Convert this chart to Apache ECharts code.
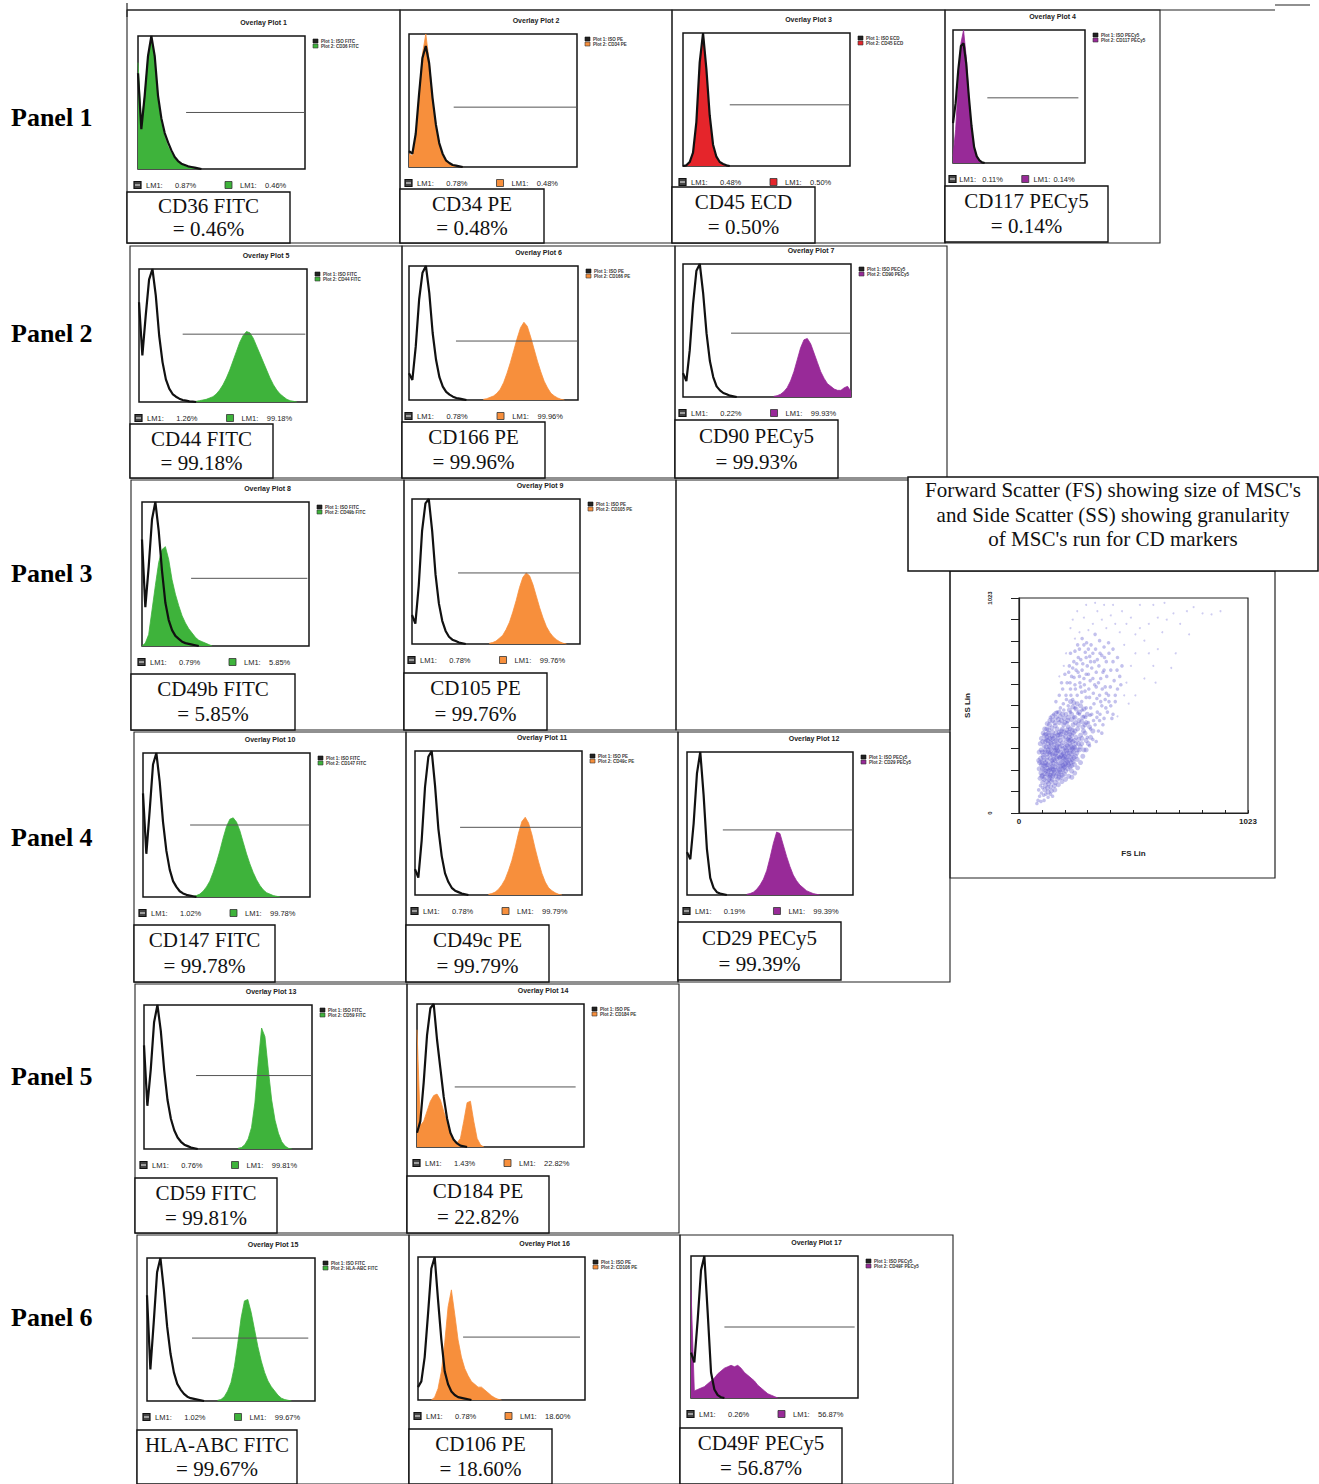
<!DOCTYPE html>
<html><head><meta charset="utf-8">
<script src="https://cdn.jsdelivr.net/npm/echarts@6/dist/echarts.min.js"></script>
<style>html,body{margin:0;padding:0;background:#fff}#c{width:1319px;height:1484px}</style>
</head><body><div id="c"></div>
<script>
// ---------------- DATA ----------------
const panelNames = ['Panel 1','Panel 2','Panel 3','Panel 4','Panel 5','Panel 6'];
const markers = ['CD36 FITC','CD34 PE','CD45 ECD','CD117 PECy5','CD44 FITC','CD166 PE','CD90 PECy5','CD49b FITC','CD105 PE','CD147 FITC','CD49c PE','CD29 PECy5','CD59 FITC','CD184 PE','HLA-ABC FITC','CD106 PE','CD49F PECy5'];
const positivePct = ['0.46%','0.48%','0.50%','0.14%','99.18%','99.96%','99.93%','5.85%','99.76%','99.78%','99.79%','99.39%','99.81%','22.82%','99.67%','18.60%','56.87%'];
const isotypePct = ['0.87%','0.78%','0.48%','0.11%','1.26%','0.78%','0.22%','0.79%','0.78%','1.02%','0.78%','0.19%','0.76%','1.43%','1.02%','0.78%','0.26%'];
// LM1 gate (bin start, bin end, level) per plot
const gateStart = [14.4,13.3,14,13,13,13.9,14.3,14.7,13.7,14.1,13.5,10.8,15.5,11.3,13.4,13.5,10];
const gateEnd   = [50,50,50,47.5,49.5,50,50,49.5,50,50,50,50,50,47.5,48,48.5,49];
const gateLevel = [42.5,45,46,49,51,44,48,47,49,50,47,45.5,51,42,44,44,50];
// isotype control histograms (bins from 0)
const iso01 = [72,30,55,85,100,85,55,38,27,20,14,9,6,4,3,2,1.5,1,0.5,0];
const iso02 = [12,10,25,55,82,91,78,52,32,18,10,5,3,1.5,1,0.5,0];
const iso03 = [0,0.5,3,10,33,78,100,73,38,16,7,3,1.5,0.5,0];
const iso04 = [30,45,70,88,90,75,50,28,12,5,2,0.5,0];
const iso05 = [75,35,65,92,100,80,50,30,17,10,6,4,2.5,1.5,1,0.5,0.3,0];
const iso06 = [20,15,40,75,95,100,80,50,30,17,10,6,4,2.5,1.5,1,0.5,0];
const iso07 = [18,12,35,70,95,100,78,48,27,15,8,5,3,2,1,0.5,0];
const iso08 = [74,27,55,88,100,80,52,30,18,11,7,5,3,2,1.5,1,0.5,0];
const iso09 = [20,14,40,78,97,100,78,48,28,16,9,5,3,2,1,0.5,0];
const iso10 = [72,30,60,92,100,80,52,32,19,11,7,4,2.5,1.5,1,0.5,0];
const iso11 = [18,12,38,75,96,100,76,46,27,15,9,5,3,2,1,0.5,0];
const iso12 = [30,25,50,85,100,70,32,12,5,2,1,0.5,0];
const iso13 = [72,30,55,88,100,82,55,34,21,13,8,5,3,2,1,0.5,0];
const iso14 = [10,18,45,78,97,100,75,55,35,20,10,5,2.5,1,0.5,0];
const iso15 = [74,22,55,90,100,78,52,33,20,12,8,5,3,2,1.5,1,0.5,0];
const iso16 = [9,13,30,60,92,100,70,42,20,11,6,3.5,2,1.5,1,0.5,0];
const iso17 = [32,25,55,90,100,60,18,6,2,0.5,0];
// stained sample histograms (bins from stainStart)
const stainStart = [0,0,0,0,17,22,27,0,23,15,22,18,28,0,21,4,0];
const st01 = [80,35,55,85,98,82,52,35,24,17,12,8,5,3.5,2.5,1.5,1,0.5,0];
const st02 = [10,8,22,55,85,100,80,52,30,17,9,5,2.5,1.5,1,0.5,0];
const st03 = [0,0,2,8,30,75,100,70,35,14,6,2,0.5,0];
const st04 = [5,25,60,90,100,80,50,25,10,4,1,0];
const st05 = [0.5,1,1.5,2,3,4,6,9,13,18,24,31,38,45,50,53,52,48,42,36,30,24,18,13,9,6,4,2,1,0.5,0];
const st06 = [0.5,1,2,3,5,8,13,20,28,37,46,54,58,55,47,38,29,21,14,9,5,3,1.5,0.5,0];
const st07 = [0.5,1,2,4,7,12,19,28,37,43,44,40,33,26,19,14,10,8,6,5,5,7,8,4];
const st08 = [0,2,8,25,42,58,67,69,60,46,36,28,21,16,12,9,6,4,3,2,1,0];
const st09 = [0.5,1,2,4,6,10,15,22,30,39,46,49,47,41,33,25,18,12,8,5,3,1.5,0.5,0];
const st10 = [0.5,1,2,4,7,11,17,24,32,41,49,54,55,52,46,38,30,23,17,12,8,5,3,2,1,0.5,0];
const st11 = [0.5,1,2,4,7,11,17,24,33,43,51,54,50,42,32,23,15,9,5,3,1.5,0.5,0];
const st12 = [0.5,1,2,4,7,11,17,26,36,44,43,35,27,20,14,10,7,5,3,2,1,0.5,0];
const st13 = [0.5,1,3,7,15,32,60,84,78,55,34,20,11,5,2,0.5,0];
const st14 = [82,15,18,25,32,36,37,33,25,17,9,4,3,6,18,31,32,18,6,1.5,0];
const st15 = [0.5,1,3,7,13,24,40,58,70,71,62,50,38,28,20,14,10,7,4,2,1,0.5,0];
const st16 = [0,2,8,20,40,65,77,60,42,30,22,17,13,11,9,9,7,5,3,1.5,0.5,0];
const st17 = [76,5,6,7,8,10,12,14,17,19,21,22,23,22,23,21,18,16,14,12,9,7,5,3,2,1,0];
// FS / SS scatter events (FS Lin, SS Lin pairs)
const coreEvents = [
120,200,135,180,150,220,160,250,175,210,190,240,140,260,130,230,115,170,125,150,145,195,165,175,180,265,200,280,210,230,155,300,170,320,185,290,140,310,125,280,
110,250,105,210,118,130,132,140,148,160,162,145,178,190,195,205,205,255,220,270,230,300,215,320,195,335,175,355,160,340,145,350,130,330,118,300,108,275,100,230,
98,190,112,160,128,120,142,125,158,130,172,160,188,170,203,185,218,210,232,240,245,265,250,310,240,340,225,360,210,380,190,390,170,400,150,385,135,370,122,350,
112,320,104,290,96,260,102,175,116,188,137,205,152,238,168,232,183,222,198,262,213,295,228,330,243,290,258,285,265,330,255,360,238,395,220,410,200,420,180,430,
162,415,147,405,133,395,120,375,126,250,138,282,153,272,167,285,182,315,197,305,212,345,227,375,242,420,262,400,275,370,280,330,270,300,260,255,248,230,235,200,
222,175,208,160,192,150,176,135,160,110,145,105,130,100,115,110,106,145,94,165,90,210,92,240,99,300,106,340,114,370,124,400,136,420,150,440,166,455,184,460,
202,450,218,440,235,445,252,430,268,440,285,410,295,380,300,345,290,300,285,270,275,240,262,215,249,190,236,170,155,205,143,235,128,212,187,268,172,298,157,325,
208,200,224,250,236,280,196,360,181,372,165,380,149,368,117,225,131,300,141,335,
105,180,112,205,119,240,126,265,133,290,140,215,147,250,154,185,161,220,168,260,175,240,182,205,189,225,196,245,203,270,210,300,217,285,224,310,231,265,238,255,
121,315,128,345,135,315,142,290,149,280,156,310,163,300,170,270,177,330,184,345,191,320,198,285,205,310,212,325,219,350,226,345,233,320,240,310,247,345,254,330,
109,265,116,290,123,230,130,200,137,170,144,150,151,175,158,195,165,205,172,185,179,170,186,195,193,180,200,215,207,235,214,250,221,230,228,220,235,225,242,245,
117,340,124,360,131,380,138,355,145,330,152,355,159,365,166,345,173,370,180,385,187,375,194,400,201,385,208,365,215,395,222,385,229,400,236,370,243,380,250,390,
103,240,110,225,127,185,134,160,141,180,148,210,155,255,162,280,169,310,176,295,183,260,190,275,197,225,204,220,211,265,218,240,225,285,232,350,239,300,246,315,
253,270,260,300,267,350,274,315,281,355,288,390,160,430,175,445,190,440,205,430,220,455,235,470,250,455,265,420,280,435,295,420,
300,300,310,330,320,360,330,390,315,410,300,430,285,455,270,480,255,495,240,505,225,490,210,470,195,470,180,480,165,475,150,460,138,440,126,425,115,400,108,380,
100,355,95,330,90,290,88,250,305,470,290,495,275,510,260,520,245,525,230,530
];
const midEvents = [
230,480,250,500,270,470,290,460,310,430,320,400,305,360,315,320,330,350,340,420,325,470,300,500,280,530,260,560,240,540,220,510,200,490,185,500,170,480,155,470,
140,455,210,560,230,590,250,610,275,600,295,580,315,550,335,520,350,480,360,440,355,390,345,340,370,380,380,450,370,510,360,560,345,600,330,640,310,660,290,640,
270,650,255,680,235,650,215,620,195,590,180,560,165,530,190,620,205,660,225,700,245,720,265,740,285,710,305,700,325,690,345,670,365,640,385,600,400,560,410,510,
395,480,420,470,430,530,440,590,425,630,410,680,390,720,370,750,350,730,330,760,310,780,290,800,270,780,250,770,230,760,300,740,320,720,380,680,450,650,460,700,
440,740,420,780,400,810,380,790,360,820,340,850,
215,430,245,455,262,475,282,490,298,455,318,465,333,440,348,455,362,470,375,420,388,500,402,530,385,540,365,530,348,545,332,570,312,590,292,610,272,620,252,590,
232,560,212,540,198,520,228,620,246,645,264,670,282,680,300,660,318,630,338,610,355,620,372,590,390,570,408,600,392,650,375,670,357,700,337,720,316,745,296,765,
276,730,258,710,240,690,222,670,262,800,282,830,302,810,322,800,342,780,362,760,382,740,402,760,420,720,438,680,455,610,430,560,415,450,300,550,280,575,320,500,
85,60,92,80,100,95,110,85,88,110,96,130,105,120,120,90,80,45,130,75,140,90,150,80,112,60,98,55
];
const sparseEvents = [
480,620,500,700,520,760,470,800,450,860,430,900,410,940,390,880,370,920,350,960,330,900,310,870,290,930,270,860,250,830,230,880,260,960,300,990,340,1000,380,990,
420,990,460,960,500,930,540,880,560,820,580,760,600,700,620,780,640,860,660,920,690,950,720,900,750,960,780,980,820,950,860,945,900,960,540,990,600,990,650,1000,
560,640,520,560,490,520,610,620,680,690,700,760,470,560,440,460,760,850,580,900,620,930,520,850,480,900,200,700,210,760,240,920,180,650
];
const fsTitle = ["Forward Scatter (FS) showing size of MSC's", "and Side Scatter (SS) showing granularity", "of MSC's run for CD markers"];

// ---------------- LAYOUT / STYLE ----------------
const isoList = [iso01,iso02,iso03,iso04,iso05,iso06,iso07,iso08,iso09,iso10,iso11,iso12,iso13,iso14,iso15,iso16,iso17];
const stList = [st01,st02,st03,st04,st05,st06,st07,st08,st09,st10,st11,st12,st13,st14,st15,st16,st17];
const plotBox = [[138,36,167,133],[409,34,168,133],[683,33,167,133],[953,30,132,133],
 [139,269,168,133],[409,266,169,134],[683,264,168,133],
 [142,502,167,144],[412,499,168,145],
 [143,753,167,144],[415,751,167,144],[687,752,166,143],
 [144,1005,168,144],[417,1004,167,143],
 [147,1258,168,143],[418,1257,167,143],[691,1256,167,142]];
const cells = [[127,10,273,233],[400,10,272,233],[672,10,273,233],[945,10,215,233],
 [130,246,272,232],[402,246,273,232],[675,246,272,232],
 [131,480,273,250],[404,480,272,250],[676,480,274,250],
 [134,732,272,250],[406,732,272,250],[678,732,272,250],
 [135,984,272,249],[407,984,272,249],
 [137,1235,272,249],[409,1235,271,249],[680,1235,273,249]];
const plotCell = [0,1,2,3,4,5,6,7,8,10,11,12,13,14,15,16,17];
const labelBox = [[127,192,163,51],[400,189,144,54],[672,187,143,56],[945,186,163,56],
 [130,424,143,54],[402,422,143,56],[675,420,163,58],
 [131,674,164,56],[404,673,143,57],
 [134,925,141,57],[406,925,143,57],[678,922,163,58],
 [135,1178,142,55],[407,1176,142,57],
 [137,1430,160,54],[409,1429,143,55],[680,1428,162,56]];
const panelY = [117,333,573,837,1076,1317];
const fluorColor = {FITC:'#3eb33b', PE:'#f78f3c', ECD:'#e5252b', PECy5:'#982a98'};
const SERIF = '"Liberation Serif","Times New Roman",serif';
const SANS = '"Liberation Sans",Arial,sans-serif';

function txt(x,y,text,font,fill,align,valign){
  return {type:'text', silent:true, x:x, y:y, z:10, style:{text:text, font:font, fill:fill||'#111',
    align:align||'left', verticalAlign:valign||'middle', textAlign:align||'left', textVerticalAlign:valign||'middle'}};
}
function rect(x,y,w,h,fill,stroke,lw,z){
  return {type:'rect', silent:true, z:z||5, shape:{x:x,y:y,width:w,height:h}, style:{fill:fill||'none', stroke:stroke||'#111', lineWidth:lw==null?1.2:lw}};
}
function line(x1,y1,x2,y2,stroke,lw,z){
  return {type:'line', silent:true, z:z||6, shape:{x1:x1,y1:y1,x2:x2,y2:y2}, style:{stroke:stroke||'#111', lineWidth:lw||1.2}};
}
function pairs(a){ const r=[]; for(let k=0;k<a.length;k+=2) r.push([a[k],a[k+1]]); return r; }

const grids=[], xAxes=[], yAxes=[], series=[], gfx=[];
// page decorations
gfx.push(line(127,10,1275,10,'#222',1.2));
gfx.push(line(1275,5,1310,5,'#222',1.2));
gfx.push(line(127,3,127,17,'#222',1.2));
cells.forEach(c=>gfx.push(rect(c[0],c[1],c[2],c[3],'none','#222',1.1,4)));
panelNames.forEach((p,i)=>gfx.push(txt(11,panelY[i],p,'bold 26px '+SERIF,'#000','left','middle')));

for(let i=0;i<17;i++){
  const b = plotBox[i];
  const col = fluorColor[markers[i].split(' ').pop()];
  grids.push({left:b[0], top:b[1], width:b[2], height:b[3], show:true, borderColor:'#151515', borderWidth:1.5, backgroundColor:'#ffffff', outerBoundsMode:'none'});
  xAxes.push({gridIndex:i, type:'value', min:0, max:50, show:false});
  yAxes.push({gridIndex:i, type:'value', min:0, max:100, show:false});
  series.push({type:'line', xAxisIndex:i, yAxisIndex:i, silent:true, symbol:'none', z:2,
    data: stList[i].map((v,k)=>[stainStart[i]+k, v]),
    lineStyle:{color:col, width:0.8}, areaStyle:{color:col, opacity:1}});
  series.push({type:'line', xAxisIndex:i, yAxisIndex:i, silent:true, symbol:'none', z:3,
    data: [[gateStart[i],gateLevel[i]],[gateEnd[i],gateLevel[i]]],
    lineStyle:{color:'#555', width:1}});
  series.push({type:'line', xAxisIndex:i, yAxisIndex:i, silent:true, symbol:'none', z:4,
    data: isoList[i].map((v,k)=>[k, v]),
    lineStyle:{color:'#111', width:2.2}});
  // title
  const c = cells[plotCell[i]];
  gfx.push(txt(c[0]+c[2]/2, b[1]-14, 'Overlay Plot '+(i+1), 'bold 7px '+SANS, '#222','center','middle'));
  // legend
  const lx = b[0]+b[2]+8, ly=b[1]+3;
  gfx.push(rect(lx,ly,5,4,'#222','#111',0.6,7));
  gfx.push(rect(lx,ly+5,5,4,col,'#333',0.6,7));
  gfx.push(txt(lx+8,ly+2,'Plot 1: ISO '+markers[i].split(' ').pop(),'bold 4.5px '+SANS,'#333'));
  gfx.push(txt(lx+8,ly+7,'Plot 2: '+markers[i],'bold 4.5px '+SANS,'#333'));
  // LM1 row
  const s = b[2]/167, ry = b[1]+b[3]+16, x0=b[0];
  gfx.push(rect(x0-4,ry-3.5,7,7,'#444','#111',1.2,7));
  gfx.push(line(x0-3,ry,x0+2,ry,'#ddd',1.2,8));
  gfx.push(txt(x0+8*s,ry,'LM1:','7.5px '+SANS,'#222'));
  gfx.push(txt(x0+37*s,ry,isotypePct[i],'7.5px '+SANS,'#222'));
  gfx.push(rect(x0+87*s,ry-3.5,7,7,col,'#333',0.8,7));
  gfx.push(txt(x0+102*s,ry,'LM1:','7.5px '+SANS,'#222'));
  gfx.push(txt(x0+127*s,ry,positivePct[i],'7.5px '+SANS,'#222'));
  // label box
  const L = labelBox[i];
  gfx.push(rect(L[0],L[1],L[2],L[3],'#fff','#111',1.4,6));
  gfx.push(txt(L[0]+L[2]/2, L[1]+L[3]*0.27, markers[i], '21px '+SERIF, '#111','center','middle'));
  gfx.push(txt(L[0]+L[2]/2, L[1]+L[3]*0.72, '= '+positivePct[i], '21px '+SERIF, '#111','center','middle'));
}

// scatter panel
gfx.push(rect(950,571,325,307,'none','#222',1.2,4));
gfx.push(rect(908,477,410,94,'#fff','#111',1.5,6));
fsTitle.forEach((t,k)=>gfx.push(txt(1113,490+k*24.5,t,'21px '+SERIF,'#111','center','middle')));

grids.push({left:1019, top:598, width:229, height:215, show:true, borderColor:'#222', borderWidth:1.2, backgroundColor:'transparent', outerBoundsMode:'none'});
xAxes.push({gridIndex:17, type:'value', min:0, max:1023, interval:102.3,
  name:'FS Lin', nameLocation:'middle', nameGap:36, nameTextStyle:{fontSize:8, fontWeight:'bold', color:'#222', fontFamily:SANS},
  axisLine:{show:true, lineStyle:{color:'#222', width:1.2}},
  axisTick:{show:true, inside:true, length:3, lineStyle:{color:'#222'}},
  axisLabel:{show:true, showMinLabel:true, showMaxLabel:true, margin:4, fontSize:8, fontWeight:'bold', color:'#222', fontFamily:SANS,
    formatter:v=> (v===0 || Math.abs(v-1023)<1) ? String(Math.round(v)) : ''},
  splitLine:{show:false}});
yAxes.push({gridIndex:17, type:'value', min:0, max:1023, interval:102.3,
  name:'SS Lin', nameLocation:'middle', nameGap:48, nameRotate:90, nameTextStyle:{fontSize:8, fontWeight:'bold', color:'#222', fontFamily:SANS},
  axisLine:{show:true, lineStyle:{color:'#222', width:1.2}},
  axisTick:{show:true, inside:false, length:8, lineStyle:{color:'#222'}},
  axisLabel:{show:true, rotate:90, showMinLabel:true, showMaxLabel:true, margin:26, fontSize:6, fontWeight:'bold', color:'#222', fontFamily:SANS,
    formatter:v=> (v===0 || Math.abs(v-1023)<1) ? String(Math.round(v)) : ''},
  splitLine:{show:false}});
series.push({type:'scatter', xAxisIndex:17, yAxisIndex:17, silent:true, symbolSize:2, data:pairs(sparseEvents),
  itemStyle:{color:'rgba(120,115,215,0.45)'}});
series.push({type:'scatter', xAxisIndex:17, yAxisIndex:17, silent:true, symbolSize:3.6, data:pairs(midEvents),
  itemStyle:{color:'rgba(105,100,210,0.5)'}});
series.push({type:'scatter', xAxisIndex:17, yAxisIndex:17, silent:true, symbolSize:5, data:pairs(coreEvents),
  itemStyle:{color:'rgba(95,90,205,0.45)'}});

const chart = echarts.init(document.getElementById('c'), null, {renderer:'svg', width:1319, height:1484});
chart.setOption({animation:false, backgroundColor:'#fff', grid:grids, xAxis:xAxes, yAxis:yAxes, series:series, graphic:{elements:gfx}});
</script></body></html>
